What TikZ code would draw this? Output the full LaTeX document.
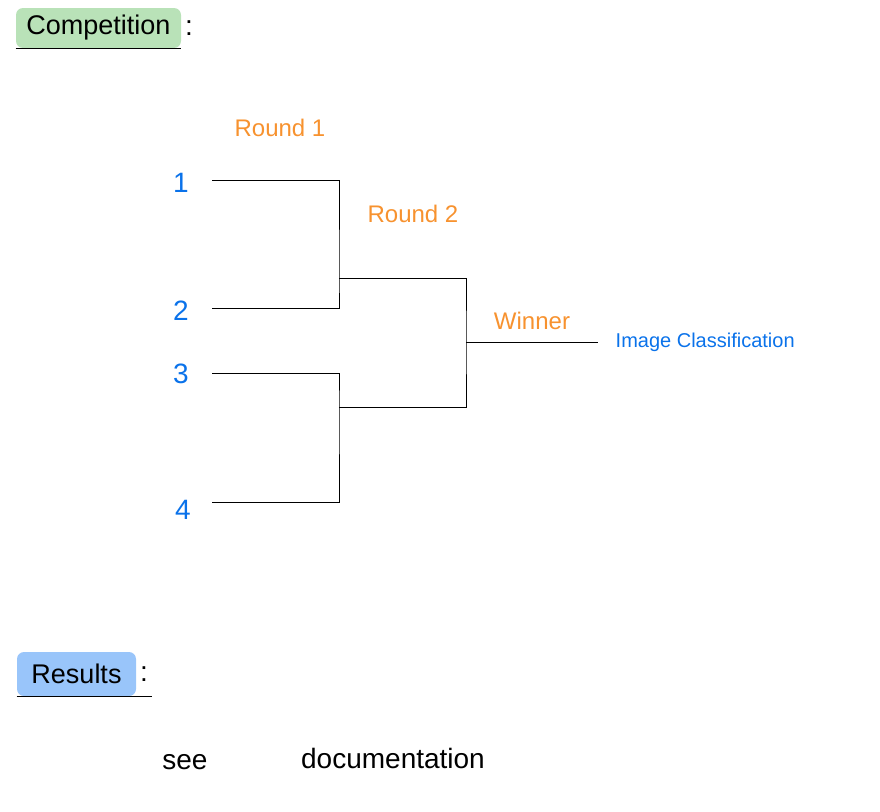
\documentclass[tikz,border=0pt]{standalone}
\usepackage{fontspec}
\setmainfont{Liberation Sans}
\usetikzlibrary{positioning}
\definecolor{cgreen}{HTML}{B9E2B8}
\definecolor{cblue}{HTML}{99C5FA}
\definecolor{corange}{HTML}{F7922F}
\definecolor{cplayer}{HTML}{0A72EA}
\tikzset{
  every picture/.style={line width=0.8pt},
  heading/.style={fill=#1, rounded corners=7pt, inner sep=2pt, font=\fontsize{27}{30}\selectfont},
  player/.style={text=cplayer, font=\fontsize{28}{32}\selectfont},
  roundlabel/.style={text=corange, font=\fontsize{24}{28}\selectfont},
  bracket/.style={draw=black, line width=0.8pt},
  plain/.style={font=\fontsize{28}{32}\selectfont},
}

\begin{document}
\begin{tikzpicture}[x=1pt, y=-1pt]
  \useasboundingbox (0,0) rectangle (880,811);
  % heading: competition
  \node[heading=cgreen, minimum width=165pt, minimum height=40pt] (comp) at (98.5,28) {Competition};
  \node[plain, right=0pt of comp] (compcolon) {:};
  \draw[line width=1pt] (comp.south west) -- (comp.south east);
  % round labels
  \node[roundlabel] (r1) at (280,128) {Round 1};
  \node[roundlabel] (r2) at (413,214) {Round 2};
  \node[roundlabel] (win) at (532,321) {Winner};
  % players
  \node[player] (p1) at (181,183) {1};
  \node[player] (p2) at (181,311) {2};
  \node[player] (p3) at (181,374) {3};
  \node[player] (p4) at (183,510) {4};
  \coordinate (s1) at (212,180);
  \coordinate (s2) at (212,308);
  \coordinate (s3) at (212,373);
  \coordinate (s4) at (212,502);
  \coordinate (m1) at (339,278);
  \coordinate (m2) at (339,407);
  \coordinate (f) at (466,342);
  \coordinate (w) at (598,342);
  % brackets
  \draw[bracket] (s1) -| (m1) |- (s2);
  \draw[bracket] (s3) -| (m2) |- (s4);
  \draw[bracket] (m1) -| (f) |- (m2);
  \draw[bracket] (f) -- (w);
  \node[player, font=\fontsize{20}{24}\selectfont, right=14pt of w] (champ) {Image Classification};
  % heading: results
  \node[heading=cblue, minimum width=119pt, minimum height=44pt] (res) at (76.5,674) {Results};
  \node[plain, right=0pt of res] (rescolon) {:};
  \draw[line width=1pt] (res.south west) -- (res.south west -| rescolon.east);
  % results text
  \node[plain] (see) at (185,762) {see};
  \node[plain] (doc) at (393,758) {documentation};
\end{tikzpicture}
\end{document}
